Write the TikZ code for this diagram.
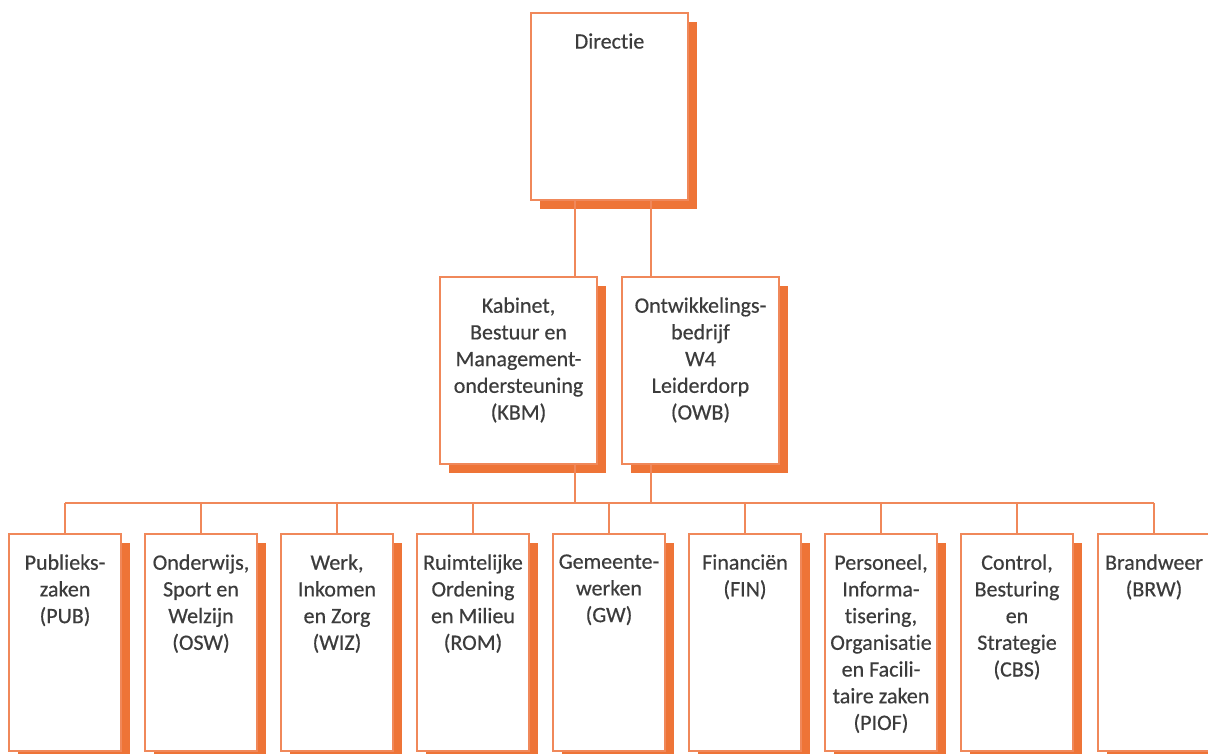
\documentclass[tikz,border=0pt]{standalone}
\usepackage{fontspec}
\setmainfont{Carlito}[Ligatures={NoCommon,NoRare,NoContextual},BoldFont=Carlito,BoldFeatures={FakeBold=0.45}]
\usetikzlibrary{shadows}
\definecolor{lineor}{HTML}{F0885A}
\definecolor{shador}{HTML}{EE7437}
\definecolor{txt}{HTML}{3C3C3C}
\tikzset{
  orgbox/.style={draw=lineor, line width=1.5pt, fill=white, inner sep=0pt,
    drop shadow={shadow xshift=8.5pt, shadow yshift=-8.5pt, fill=shador, opacity=1}},
  topbox/.style={orgbox, minimum width=157pt, minimum height=187pt},
  lowbox/.style={orgbox, minimum width=112pt, minimum height=217pt},
  lbl/.style={anchor=north, inner sep=0pt, align=center, text=txt,
    font={\fontsize{22}{26.7}\selectfont\bfseries}},
  conn/.style={draw=lineor, line width=1.5pt}
}
\begin{document}
\begin{tikzpicture}[x=1pt,y=-1pt]
\useasboundingbox (0,0) rectangle (1208,753);
\fill[white] (0,0) rectangle (1208,753);
\clip (0,0) rectangle (1208,753);
% boxes
\node[topbox] (dir) at (609.5,106.5) {};
\node[topbox] (kbm) at (518.5,370.5) {};
\node[topbox] (owb) at (700.5,370.5) {};
\foreach \n/\x in {pub/65,osw/201,wiz/337,rom/473,gw/609,fin/745,piof/881,cbs/1017,brw/1154}{
  \node[lowbox] (\n) at (\x,642.5) {};
}
% labels
\node[lbl] (dirT) at ([yshift=-21pt]dir.north) {Directie};
\node[lbl] (kbmT) at ([yshift=-21pt]kbm.north) {Kabinet,\\Bestuur en\\Management-\\ondersteuning\\(KBM)};
\node[lbl] (owbT) at ([yshift=-21pt]owb.north) {Ontwikkelings-\\bedrijf\\W4\\Leiderdorp\\(OWB)};
\node[lbl] (pubT) at ([yshift=-21pt]pub.north) {Publieks-\\zaken\\(PUB)};
\node[lbl] (oswT) at ([yshift=-21pt]osw.north) {Onderwijs,\\Sport en\\Welzijn\\(OSW)};
\node[lbl] (wizT) at ([yshift=-21pt]wiz.north) {Werk,\\Inkomen\\en Zorg\\(WIZ)};
\node[lbl] (romT) at ([yshift=-21pt]rom.north) {Ruimtelijke\\Ordening\\en Milieu\\(ROM)};
\node[lbl] (gwT) at ([yshift=-21pt]gw.north) {Gemeente-\\werken\\(GW)};
\node[lbl] (finT) at ([yshift=-21pt]fin.north) {Financiën\\(FIN)};
\node[lbl] (piofT) at ([yshift=-21pt]piof.north) {Personeel,\\Informa-\\tisering,\\Organisatie\\en Facili-\\taire zaken\\(PIOF)};
\node[lbl] (cbsT) at ([yshift=-21pt]cbs.north) {Control,\\Besturing\\en\\Strategie\\(CBS)};
\node[lbl] (brwT) at ([yshift=-21pt]brw.north) {Brandweer\\(BRW)};
% connectors
\coordinate (xa) at (575,0);
\coordinate (xb) at (651,0);
\coordinate (busL) at (65,503);
\coordinate (busR) at (1154,503);
\draw[conn] (dir.south -| xa) -- (kbm.north -| xa);
\draw[conn] (dir.south -| xb) -- (owb.north -| xb);
\draw[conn] (kbm.south -| xa) -- (xa |- busL);
\draw[conn] (owb.south -| xb) -- (xb |- busL);
\draw[conn] (busL) -- (busR);
\foreach \n in {pub,osw,wiz,rom,gw,fin,piof,cbs,brw}{
  \draw[conn] (\n.north) -- (\n.north |- busL);
}
\end{tikzpicture}
\end{document}
